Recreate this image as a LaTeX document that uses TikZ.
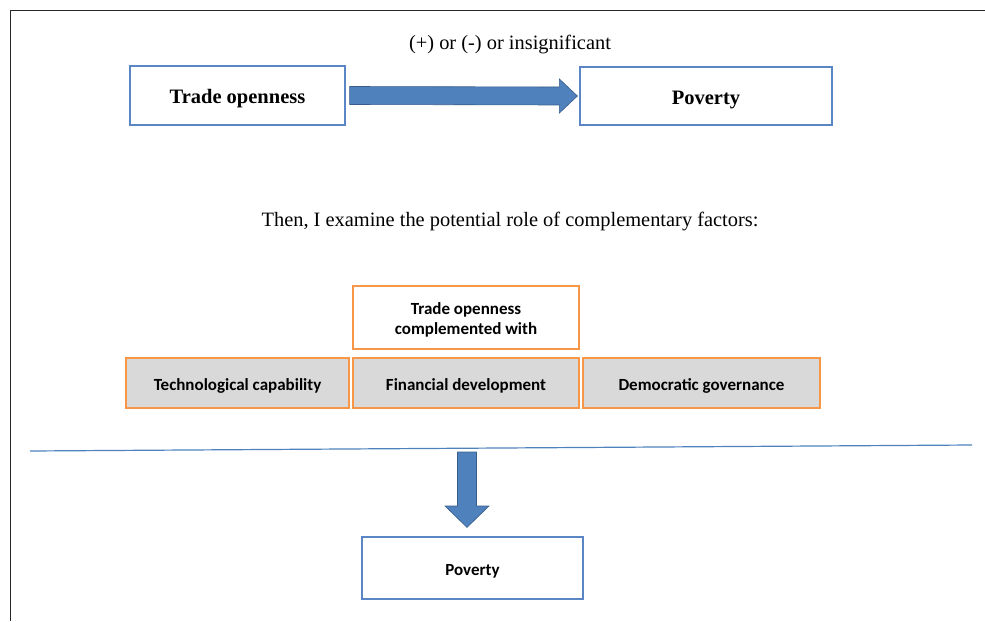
\documentclass[tikz,border=0pt]{standalone}
\usepackage{fontspec}
\setmainfont{Liberation Serif}
\newfontfamily\calfont{Carlito}
\usetikzlibrary{calc}
\definecolor{boxblue}{RGB}{91,134,197}
\definecolor{arrowblue}{RGB}{79,129,189}
\definecolor{arrowedge}{RGB}{56,93,138}
\definecolor{boxorange}{RGB}{247,150,70}
\definecolor{boxgray}{RGB}{217,217,217}
\definecolor{framegray}{RGB}{40,40,40}
\tikzset{
  bluebox/.style={draw=boxblue, line width=1.2pt, fill=white, minimum width=#1, inner sep=0pt, text height=18pt, text depth=2pt, font=\fontsize{20.5}{24}\selectfont\bfseries},
  orangebox/.style={draw=boxorange, line width=1.3pt, fill=white, inner sep=0pt, align=center, font=\calfont\fontsize{17}{20.5}\selectfont\bfseries},
  graybox/.style={orangebox, fill=boxgray, text height=16pt, text depth=2pt},
  blockarrow/.style={fill=arrowblue, draw=arrowedge, line width=0.6pt, line join=miter},
  caption/.style={inner sep=0pt, font=\fontsize{20.4}{24}\selectfont}
}
\begin{document}
\begin{tikzpicture}[x=1pt,y=-1pt]
\useasboundingbox (0,0) rectangle (985,621);
% frame
\draw[framegray, line width=1pt] (985,10) -- (10,10) -- (10,621);
% top part
\node[caption] (sign) at (510,45) {(+) or (-) or insignificant};
\node[bluebox=215pt, minimum height=59pt] (to) at (237.5,95.5) {Trade openness};
\node[bluebox=252pt, minimum height=58pt] (pov1) at (706,96) {Poverty};
\draw[blockarrow] ($(to.east)+(4,-9)$) -- ($(pov1.west)+(-20,-9)$) -- ($(pov1.west)+(-20,-17)$)
  -- ($(pov1.west)+(-2,0)$) -- ($(pov1.west)+(-20,17)$) -- ($(pov1.west)+(-20,9)$)
  -- ($(to.east)+(4,9)$) -- cycle;
\node[caption] (then) at (510,222) {Then, I examine the potential role of complementary factors:};
% complement boxes
\node[orangebox, minimum width=226pt, minimum height=63pt] (comp) at (466,317.5) {\rule{0pt}{17pt}Trade openness\\complemented with};
\node[graybox, minimum width=223pt, minimum height=50pt] (tech) at (237.5,383) {Technological capability};
\node[graybox, minimum width=226pt, minimum height=50pt] (fin) at (466,383) {Financial development};
\node[graybox, minimum width=237pt, minimum height=50pt] (dem) at (701.5,383) {Democratic governance};
% separator line
\coordinate (lineL) at (30,451);
\coordinate (lineR) at (972,445);
\draw[arrowblue, line width=1.2pt] (lineL) -- (lineR);
% bottom poverty
\node[orangebox, draw=boxblue, line width=1.2pt, text height=16pt, text depth=2pt, minimum width=221pt, minimum height=62pt] (pov2) at (472.5,568) {Poverty};
\coordinate (dtop) at (467,452);
\draw[blockarrow] ($(dtop)+(-9.5,0)$) -- ($(dtop)+(9.5,0)$) -- ($(dtop)+(9.5,54)$) -- ($(dtop)+(22,54)$)
  -- ($(pov2.north)+(-5.5,-9)$) -- ($(dtop)+(-22,54)$) -- ($(dtop)+(-9.5,54)$) -- cycle;
\end{tikzpicture}
\end{document}
